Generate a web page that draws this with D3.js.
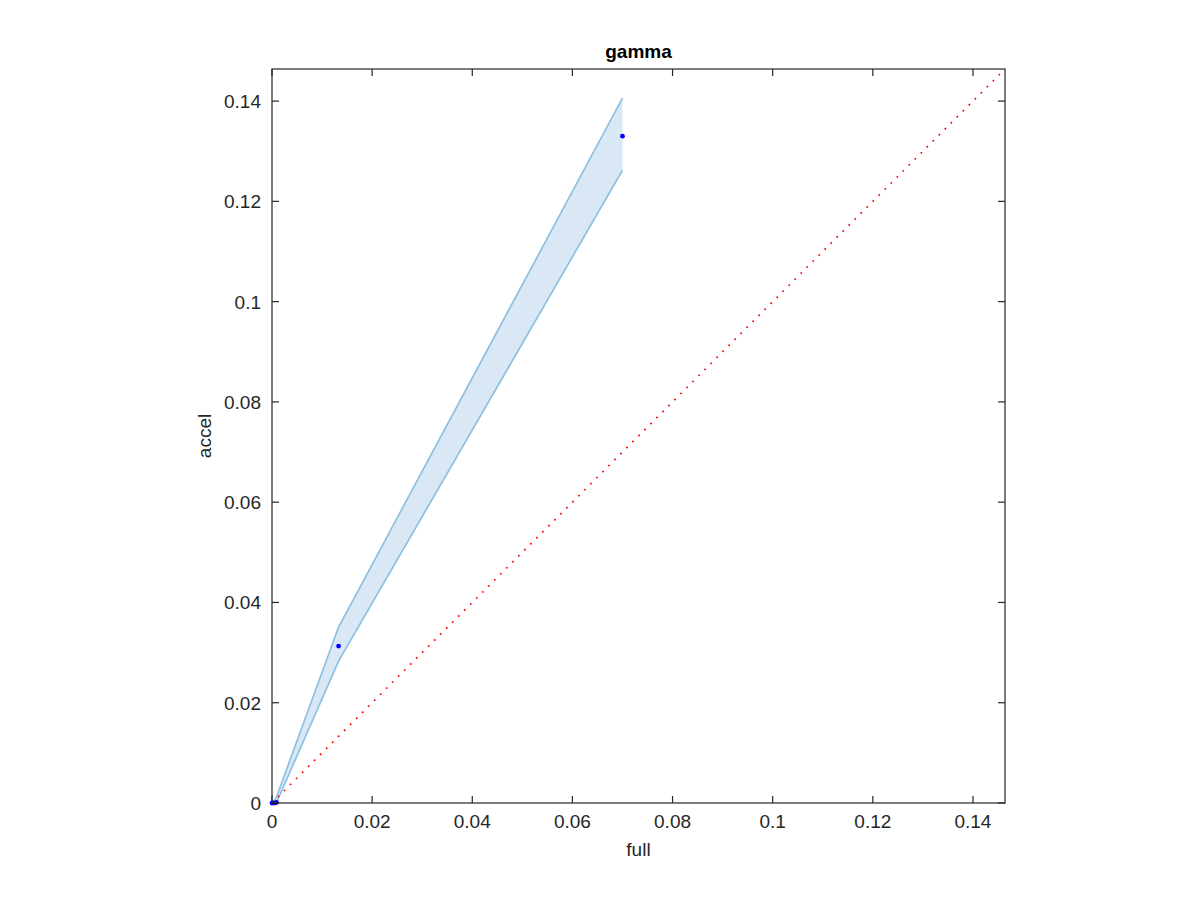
<!DOCTYPE html>
<html>
<head>
<meta charset="utf-8">
<script src="https://cdn.jsdelivr.net/npm/d3@7"></script>
<style>
  body { margin: 0; background: #fff; }
  text { font-family: "Liberation Sans", Arial, sans-serif; fill: #262626; }
</style>
</head>
<body>
<script>
// values
var full  = [0, 0.0004, 0.0009, 0.0133, 0.0700]
var accel = [0, 0, 0.0001, 0.0313, 0.1330]
var lower = [0, 0, 0.0001, 0.0283, 0.1262]
var upper = [0, 0.0003, 0.0012, 0.0351, 0.1406]
var ticks = [0, 0.02, 0.04, 0.06, 0.08, 0.1, 0.12, 0.14]
var lim = [0, 0.1464]

var plotL = 272, plotR = 1005, plotT = 69, plotB = 803

var x = d3.scaleLinear().domain(lim).range([plotL, plotR])
var y = d3.scaleLinear().domain(lim).range([plotB, plotT])

var svg = d3.select("body")
            .append("svg")
            .attr("width", 1200)
            .attr("height", 900)

var band = full.map((f, i) => ({x: f, lo: lower[i], hi: upper[i]}))

svg.append("path")
   .datum(band)
   .attr("fill", "#d9e8f4")
   .attr("stroke", "none")
   .attr("d", d3.area().x(d => x(d.x)).y0(d => y(d.lo)).y1(d => y(d.hi)))

svg.append("path")
   .datum(band)
   .attr("fill", "none")
   .attr("stroke", "#8dc0e1")
   .attr("stroke-width", 1.7)
   .attr("d", d3.line().x(d => x(d.x)).y(d => y(d.hi)))

svg.append("path")
   .datum(band)
   .attr("fill", "none")
   .attr("stroke", "#8dc0e1")
   .attr("stroke-width", 1.7)
   .attr("d", d3.line().x(d => x(d.x)).y(d => y(d.lo)))

// identity line
svg.append("line")
   .attr("x1", x(lim[0])).attr("y1", y(lim[0]))
   .attr("x2", x(lim[1])).attr("y2", y(lim[1]))
   .attr("stroke", "#ff0000")
   .attr("stroke-width", 1.7)
   .attr("stroke-dasharray", "1.7 6.8")

svg.selectAll(".pt")
   .data(full)
   .enter()
   .append("circle")
   .attr("class", "pt")
   .attr("cx", d => x(d))
   .attr("cy", (d, i) => y(accel[i]))
   .attr("r", 2.4)
   .attr("fill", "#0000ff")

// axes, box with inward ticks
var tl = 7
var ax = svg.append("g")
            .attr("stroke", "#262626")
            .attr("stroke-width", 1.2)
            .attr("fill", "none")

ax.append("rect")
  .attr("x", plotL).attr("y", plotT)
  .attr("width", plotR - plotL).attr("height", plotB - plotT)

ticks.forEach(t => {
  ax.append("line").attr("x1", x(t)).attr("x2", x(t)).attr("y1", plotB).attr("y2", plotB - tl)
  ax.append("line").attr("x1", x(t)).attr("x2", x(t)).attr("y1", plotT).attr("y2", plotT + tl)
  ax.append("line").attr("y1", y(t)).attr("y2", y(t)).attr("x1", plotL).attr("x2", plotL + tl)
  ax.append("line").attr("y1", y(t)).attr("y2", y(t)).attr("x1", plotR).attr("x2", plotR - tl)
})

svg.selectAll(".xt")
   .data(ticks)
   .enter()
   .append("text")
   .attr("x", d => x(d))
   .attr("y", plotB + 25)
   .attr("text-anchor", "middle")
   .attr("font-size", 19)
   .text(d => d3.format("")(d))

svg.selectAll(".yt")
   .data(ticks)
   .enter()
   .append("text")
   .attr("x", plotL - 11)
   .attr("y", d => y(d) + 7)
   .attr("text-anchor", "end")
   .attr("font-size", 19)
   .text(d => d3.format("")(d))

svg.append("text")
   .attr("x", (plotL + plotR) / 2)
   .attr("y", 856)
   .attr("text-anchor", "middle")
   .attr("font-size", 19)
   .text("full")

svg.append("text")
   .attr("transform", "translate(211," + (plotT + plotB) / 2 + ") rotate(-90)")
   .attr("text-anchor", "middle")
   .attr("font-size", 19)
   .text("accel")

svg.append("text")
   .attr("x", (plotL + plotR) / 2)
   .attr("y", 58)
   .attr("text-anchor", "middle")
   .attr("font-size", 19)
   .attr("font-weight", "bold")
   .style("fill", "#000")
   .text("gamma")
</script>
</body>
</html>
